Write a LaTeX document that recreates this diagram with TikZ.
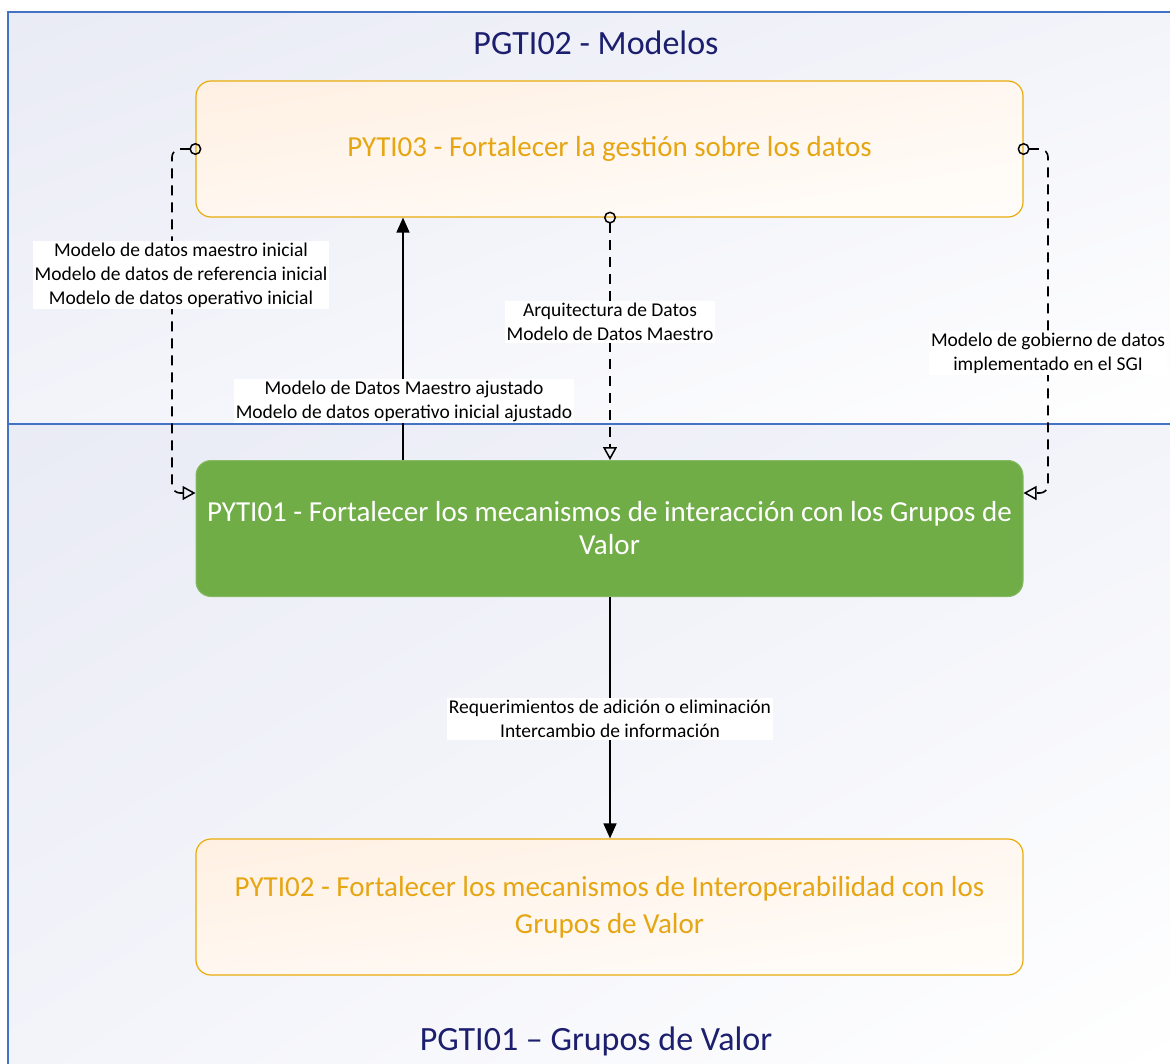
\documentclass[tikz,border=0pt]{standalone}
\usepackage{fontspec}
\setmainfont{Carlito}
\usetikzlibrary{arrows.meta,calc,shadings}
\definecolor{navy}{RGB}{28,30,110}
\definecolor{poolblue}{RGB}{68,114,196}
\definecolor{gold}{RGB}{232,172,10}
\definecolor{goldtext}{RGB}{230,166,20}
\definecolor{grn}{RGB}{112,173,71}
\definecolor{lav}{RGB}{233,235,245}
\definecolor{lavmid}{RGB}{243,244,250}
\definecolor{orgA}{RGB}{255,240,226}
\definecolor{orgB}{RGB}{255,247,240}
\definecolor{orgC}{RGB}{255,253,250}
\tikzset{
  pyti/.style={rounded corners=15pt, minimum width=827pt, minimum height=136pt,
    inner sep=0pt, align=center, font=\fontsize{29}{37}\selectfont},
  orangebox/.style={pyti, draw=gold, line width=1.2pt, text=goldtext,
    shade, upper left=orgA, upper right=orgB, lower left=orgB, lower right=orgC},
  greenbox/.style={pyti, draw=grn!85!white, line width=1pt, fill=grn, text=white,
    font=\fontsize{29}{33}\selectfont},
  conn/.style={line width=1.6pt, black},
  dashconn/.style={conn, dash pattern=on 10pt off 7pt, rounded corners=8pt},
  filledtip/.style={-{Triangle[length=15pt,width=13pt]}},
  circstart/.style={{Circle[open,length=12pt,width=12pt,line width=1.5pt]}-{Triangle[open,length=13pt,width=14pt,line width=1.5pt]}, shorten <=-6pt},
  lbl/.style={fill=white, align=center, inner sep=2pt, font=\fontsize{19.5}{24}\selectfont},
  pooltitle/.style={text=navy, font=\fontsize{34}{38}\selectfont},
}
\begin{document}
\begin{tikzpicture}[x=1pt,y=-1pt]
\useasboundingbox (0,0) rectangle (1170,1063);
% pools
\shade[upper left=lav, upper right=lavmid, lower left=lavmid, lower right=white] (8,12) rectangle (1172,424);
\shade[upper left=lav, upper right=lavmid, lower left=lavmid, lower right=white] (8,424) rectangle (1172,1066);
\draw[poolblue, line width=2pt] (8,1066) -- (8,12) -- (1172,12);
\draw[poolblue, line width=1.5pt] (8,424) -- (1172,424);
\node[pooltitle] (top) at (596,43) {PGTI02 - Modelos};
\node[pooltitle] (bot) at (596,1041) {PGTI01 – Grupos de Valor};
% boxes
\node[orangebox] (t3) at (609.5,149) {PYTI03 - Fortalecer la gestión sobre los datos};
\node[greenbox] (t1) at (609.5,528.5) {PYTI01 - Fortalecer los mecanismos de interacción con los Grupos de\\Valor};
\node[orangebox] (t2) at (609.5,907) {PYTI02 - Fortalecer los mecanismos de Interoperabilidad con los\\Grupos de Valor};
% helper coordinates
\coordinate (xl) at (172,0);
\coordinate (xr) at (1048,0);
\coordinate (xa) at (403,0);
\coordinate (xm) at (610,0);
\coordinate (yl) at (0,493);
\coordinate (lin) at (t1.west |- yl);
\coordinate (rin) at (t1.east |- yl);
% left dashed
\draw[dashconn, circstart] (t3.west) -- (t3.west -| xl) -- (lin -| xl) -- (lin);
% right dashed
\draw[dashconn, circstart] (t3.east) -- (t3.east -| xr) -- (rin -| xr) -- (rin);
% middle dashed
\draw[dashconn, circstart] (t3.south -| xm) -- (t1.north -| xm);
% solid up
\draw[conn, filledtip] (t1.north -| xa) -- (t3.south -| xa);
% solid down
\draw[conn, filledtip] (t1.south -| xm) -- (t2.north -| xm);
% labels
\node[lbl] (l1) at (181,275) {Modelo de datos maestro inicial\\Modelo de datos de referencia inicial\\Modelo de datos operativo inicial};
\node[lbl] (l2) at (610,322) {Arquitectura de Datos\\Modelo de Datos Maestro};
\node[lbl] (l3) at (404,401) {Modelo de Datos Maestro ajustado\\Modelo de datos operativo inicial ajustado};
\node[lbl] (l4) at (1048,353) {Modelo de gobierno de datos\\implementado en el SGI};
\node[lbl] (l5) at (610,719) {Requerimientos de adición o eliminación\\Intercambio de información};
\end{tikzpicture}
\end{document}
